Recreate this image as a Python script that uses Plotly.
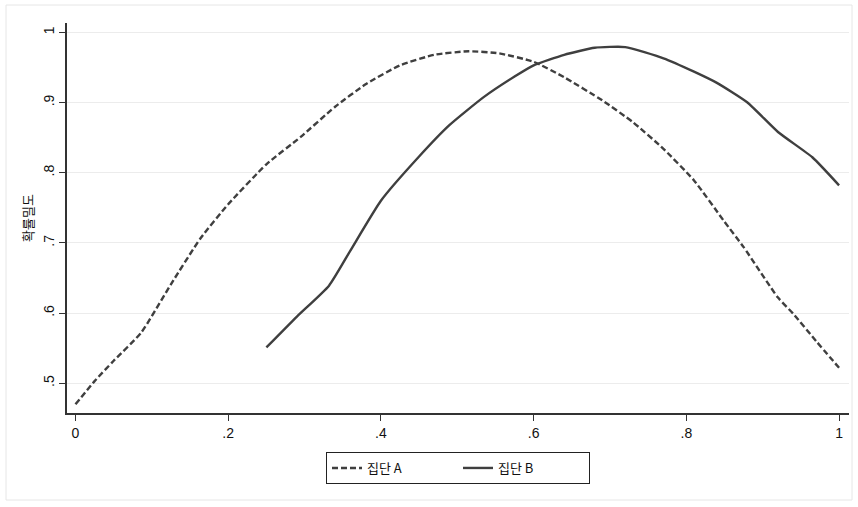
import plotly.graph_objects as go

# Series A (dashed)
a_x = [0, 0.025, 0.05, 0.086, 0.125, 0.164, 0.20, 0.25, 0.295, 0.34, 0.38, 0.425, 0.47,
       0.515, 0.555, 0.60, 0.64, 0.69, 0.73, 0.77, 0.81, 0.85, 0.875, 0.92, 0.94, 0.97, 1.0]
a_y = [0.470, 0.503, 0.532, 0.572, 0.641, 0.707, 0.755, 0.812, 0.851, 0.894, 0.926, 0.953, 0.968,
       0.973, 0.970, 0.958, 0.936, 0.903, 0.872, 0.834, 0.789, 0.730, 0.694, 0.622, 0.599, 0.560, 0.522]

# Series B (solid)
b_x = [0.25, 0.29, 0.332, 0.36, 0.40, 0.45, 0.49, 0.535, 0.575, 0.60, 0.64, 0.68, 0.72,
       0.77, 0.81, 0.84, 0.88, 0.92, 0.965, 1.0]
b_y = [0.551, 0.595, 0.639, 0.689, 0.760, 0.823, 0.868, 0.908, 0.937, 0.953, 0.968, 0.978, 0.979,
       0.963, 0.944, 0.928, 0.900, 0.858, 0.822, 0.782]

x_tick_vals = [0, 0.2, 0.4, 0.6, 0.8, 1]
x_tick_text = ["0", ".2", ".4", ".6", ".8", "1"]
y_tick_vals = [0.5, 0.6, 0.7, 0.8, 0.9, 1.0]
y_tick_text = [".5", ".6", ".7", ".8", ".9", "1"]

series_names = ["집단 A", "집단 B"]
y_title = "확률밀도"

FONT = "Liberation Sans, Arial, Noto Sans CJK KR, sans-serif"
KFONT = "Noto Sans CJK KR, Liberation Sans, sans-serif"
LINE_COLOR = "#3f3f3f"

fig = go.Figure()
fig.add_trace(go.Scatter(x=a_x, y=a_y, mode="lines", name=series_names[0],
                         line=dict(color=LINE_COLOR, width=2.4, dash="6px,3px",
                                   shape="spline", smoothing=0.5)))
fig.add_trace(go.Scatter(x=b_x, y=b_y, mode="lines", name=series_names[1],
                         line=dict(color=LINE_COLOR, width=2.4,
                                   shape="spline", smoothing=0.5)))

fig.update_layout(
    width=858, height=507,
    margin=dict(l=67, r=9, t=23, b=94),
    paper_bgcolor="white", plot_bgcolor="white",
    font=dict(family=FONT, size=14, color="#111111"),
    showlegend=True,
    legend=dict(orientation="h", x=0.5, xanchor="center", y=-(452 - 413) / 390, yanchor="top",
                bordercolor="#222222", borderwidth=1, bgcolor="white",
                font=dict(family=KFONT, size=13, color="#111111"),
                entrywidth=86, entrywidthmode="pixels", tracegroupgap=0),
    xaxis=dict(range=[-0.0111, 1.013], tickvals=x_tick_vals, ticktext=x_tick_text,
               showgrid=False, zeroline=False, showline=True, linecolor="#333333", linewidth=1.6,
               ticks="outside", ticklen=6, tickcolor="#333333", tickwidth=1.2,
               tickfont=dict(size=14), automargin=False),
    yaxis=dict(range=[0.4576, 1.0133], tickvals=y_tick_vals, ticktext=y_tick_text,
               showgrid=True, gridcolor="#ececec", gridwidth=1, zeroline=False,
               showline=True, linecolor="#333333", linewidth=1.6,
               ticks="outside", ticklen=6, tickcolor="#333333", tickwidth=1.2,
               tickangle=-90, tickfont=dict(size=14), automargin=False,
               title=dict(text=y_title, standoff=4,
                          font=dict(family=KFONT, size=13, color="#111111"))),
    shapes=[dict(type="rect", xref="paper", yref="paper",
                 x0=-61/782, x1=1 + 3/782, y0=-(500-413)/390, y1=1 + 18/390,
                 line=dict(color="#e6e6e6", width=1), fillcolor="rgba(0,0,0,0)", layer="below")],
)

fig.write_html("out.html", config={"displayModeBar": False},
               post_script="document.body.style.margin='0';")
